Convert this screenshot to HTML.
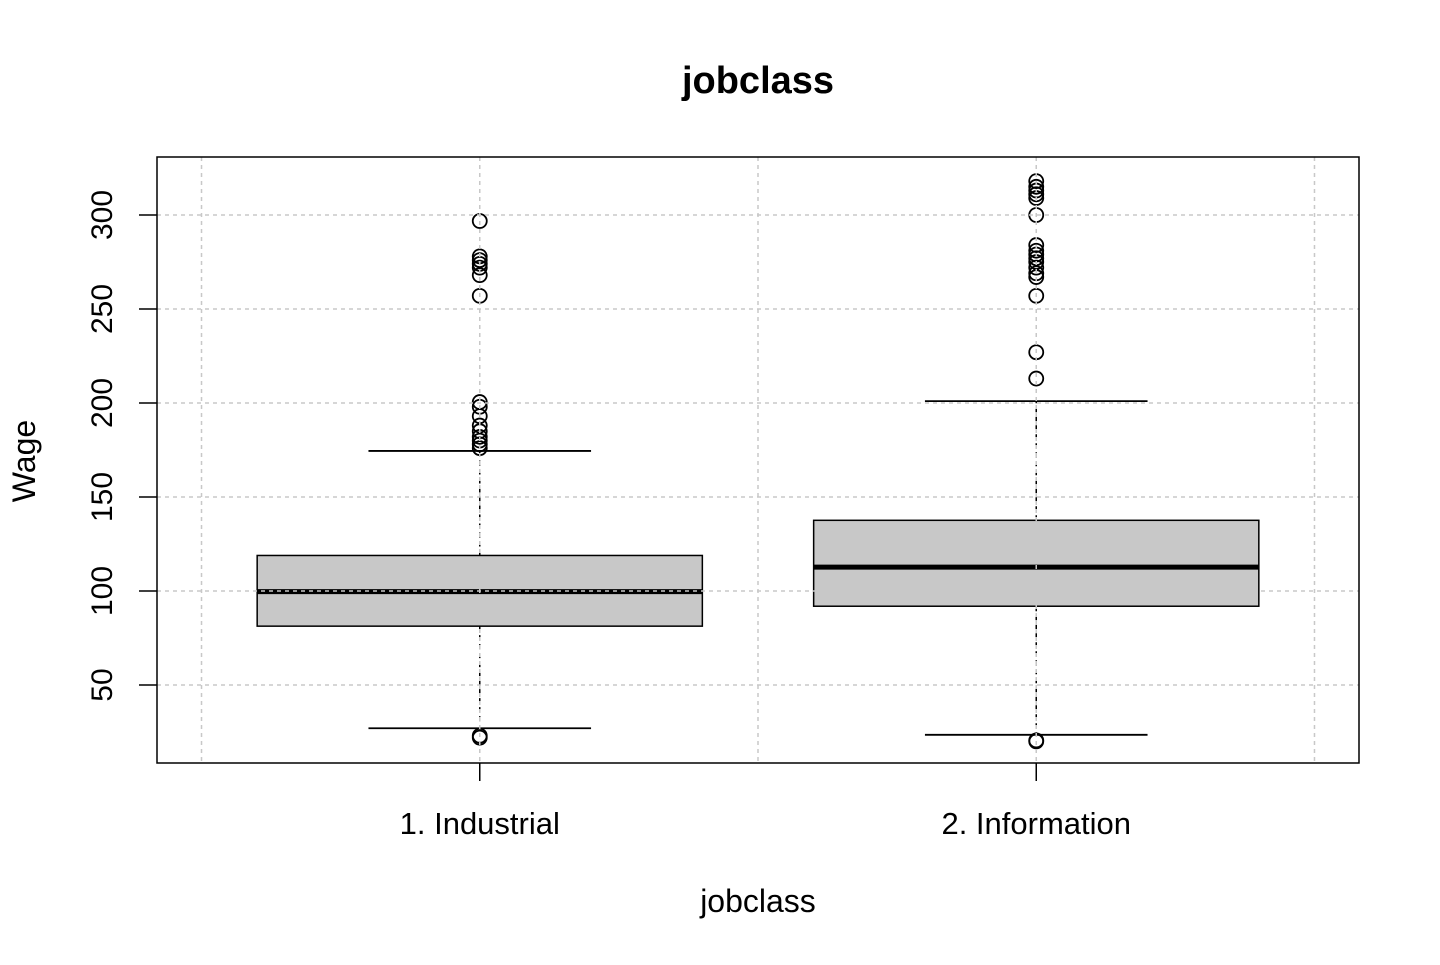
<!DOCTYPE html>
<html><head><meta charset="utf-8"><style>
body{margin:0;background:#fff}
svg text{font-family:"Liberation Sans",Arial,sans-serif}
</style></head><body>
<svg id="chart" width="1440" height="960" xmlns="http://www.w3.org/2000/svg">
<text x="758" y="93" font-size="38" font-weight="bold" text-anchor="middle">jobclass</text>
<text x="758" y="912" font-size="32" text-anchor="middle">jobclass</text>
<text transform="translate(35,461) rotate(-90)" font-size="32" text-anchor="middle">Wage</text>
<g id="marks"></g>
<g id="grid"></g>
<g id="axes"></g>
<rect x="157" y="157" width="1202" height="606" fill="none" stroke="#000" stroke-width="1.5"/>
</svg>
<script>
const categories = ["1. Industrial","2. Information"];
const q1 = [81.3, 91.9];
const medians = [99.7, 112.7];
const q3 = [118.9, 137.6];
const whiskLow = [27.0, 23.5];
const whiskHigh = [174.5, 201.0];
const outliers0 = [296.8,278,276,274,272,268,257,200.5,198,193,188,185,182,180,178,176,23,22];
const outliers1 = [318,315,313,311,309,300,284,281,279,277,275,272,269,267,257,227,213,20.5,20];
const outliers = [outliers0, outliers1];
const yTicks = [50,100,150,200,250,300];
const xGrid = [0.5,1,1.5,2,2.5];
const yGrid = [50,100,150,200,250,300];

const NS="http://www.w3.org/2000/svg";
const X0=157,X1=1359,Y0=763,Y1=157;
const xMin=0.42,xMax=2.58;
function xs(v){return X0+(v-xMin)/(xMax-xMin)*(X1-X0);}
function ys(v){return 779-v*1.88;}
function mk(parent,tag,attrs){const e=document.createElementNS(NS,tag);for(const k in attrs)e.setAttribute(k,attrs[k]);parent.appendChild(e);return e;}
const marks=document.getElementById('marks'),grid=document.getElementById('grid'),axes=document.getElementById('axes');
const bw=0.4, sw=0.2;
categories.forEach((c,i)=>{
  const cx=xs(i+1), l=xs(i+1-bw), r=xs(i+1+bw);
  let e;
  e=mk(marks,'line',{x1:cx,x2:cx,y1:ys(q3[i]),y2:ys(whiskHigh[i]),stroke:'#000','stroke-width':1.5,'stroke-dasharray':'5,4'});
  
  e=mk(marks,'line',{x1:cx,x2:cx,y1:ys(q1[i]),y2:ys(whiskLow[i]),stroke:'#000','stroke-width':1.5,'stroke-dasharray':'5,4'});
  
  e=mk(marks,'line',{x1:xs(i+1-sw),x2:xs(i+1+sw),y1:ys(whiskHigh[i]),y2:ys(whiskHigh[i]),stroke:'#000','stroke-width':1.8});
  
  e=mk(marks,'line',{x1:xs(i+1-sw),x2:xs(i+1+sw),y1:ys(whiskLow[i]),y2:ys(whiskLow[i]),stroke:'#000','stroke-width':1.8});
  
  e=mk(marks,'rect',{x:l,y:ys(q3[i]),width:r-l,height:ys(q1[i])-ys(q3[i]),fill:'#c8c8c8',stroke:'#000','stroke-width':1.5});
  
  e=mk(marks,'line',{x1:l,x2:r,y1:ys(medians[i]),y2:ys(medians[i]),stroke:'#000','stroke-width':5});
  
  outliers[i].forEach(v=>{
    const o=mk(marks,'circle',{cx:cx,cy:ys(v),r:7,fill:'none',stroke:'#000','stroke-width':1.8});
    
    
  });
  const t=mk(axes,'text',{x:cx,y:834,'font-size':31,'text-anchor':'middle'});t.textContent=c;
  
  const tk=mk(axes,'line',{x1:cx,x2:cx,y1:763,y2:781,stroke:'#000','stroke-width':1.5});
  
});
xGrid.forEach(v=>{const g=mk(grid,'line',{x1:xs(v),x2:xs(v),y1:Y1,y2:Y0,stroke:'#c8c8c8','stroke-width':1.5,'stroke-dasharray':'4,4'});
  });
yGrid.forEach(v=>{const g=mk(grid,'line',{x1:X0,x2:X1,y1:ys(v),y2:ys(v),stroke:'#c8c8c8','stroke-width':1.5,'stroke-dasharray':'4,4'});
  });
yTicks.forEach(v=>{
  const y=ys(v);
  const tk=mk(axes,'line',{x1:139,x2:157,y1:y,y2:y,stroke:'#000','stroke-width':1.5});
  
  const t=mk(axes,'text',{transform:`translate(112,${y}) rotate(-90)`,'font-size':30,'text-anchor':'middle'});t.textContent=v;
  
});
</script>
</body></html>
